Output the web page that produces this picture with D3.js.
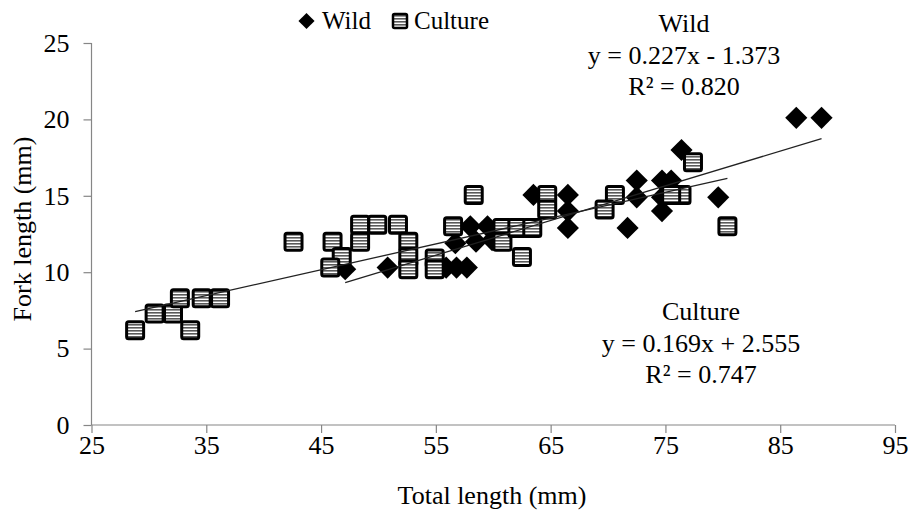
<!DOCTYPE html>
<html>
<head>
<meta charset="utf-8">
<script src="https://cdn.jsdelivr.net/npm/d3@7"></script>
<style>
  html, body { margin: 0; padding: 0; background: #fff; }
  svg { display: block; }
  text { font-family: "Liberation Serif", "Times New Roman", serif; fill: #000; }
</style>
</head>
<body>
<svg id="chart" width="908" height="513"></svg>
<script>
// ---- Data ----
const wildX = [47.1, 50.8, 55.9, 56.8, 57.7, 56.7, 58.5, 58.0, 59.5, 59.9, 63.5, 66.5, 66.5, 66.5, 71.7, 72.5, 72.5, 74.7, 75.5, 74.7, 74.7, 76.4, 79.6, 86.4, 88.6];
const wildY = [10.2, 10.3, 10.3, 10.3, 10.3, 11.9, 12.0, 13.0, 13.0, 12.1, 15.06, 15.06, 14.0, 12.9, 12.9, 16.0, 14.9, 16.0, 16.0, 14.0, 14.9, 18.0, 14.9, 20.1, 20.1];

const cultureX = [28.8, 30.5, 32.1, 32.7, 34.6, 36.2, 33.6, 42.6, 46.0, 46.8, 45.8, 48.4, 49.9, 51.7, 48.4, 52.6, 52.6, 52.6, 54.9, 54.9, 56.5, 58.3, 60.8, 60.8, 62.1, 63.4, 62.5, 64.7, 64.7, 70.6, 69.7, 77.4, 76.4, 75.5, 80.4];
const cultureY = [6.2, 7.3, 7.3, 8.3, 8.3, 8.3, 6.2, 12.0, 12.0, 11.0, 10.3, 13.1, 13.1, 13.1, 12.0, 12.0, 11.0, 10.2, 10.9, 10.2, 13.0, 15.06, 12.9, 12.0, 12.9, 12.9, 11.0, 15.06, 14.1, 15.06, 14.1, 17.2, 15.06, 15.06, 13.0];

const seriesNames = ["Wild", "Culture"];
const wildFit = [0.227, -1.373];     // slope, intercept
const cultureFit = [0.169, 2.555];
const wildLabel = ["Wild", "y = 0.227x - 1.373", "R\u00b2 = 0.820"];
const cultureLabel = ["Culture", "y = 0.169x + 2.555", "R\u00b2 = 0.747"];

const xTicks = [25, 35, 45, 55, 65, 75, 85, 95];
const yTicks = [0, 5, 10, 15, 20, 25];
const xTitle = "Total length (mm)";
const yTitle = "Fork length (mm)";

// ---- Chart ----
const svg = d3.select("#chart");
const axisColor = "#868686";
const x = d3.scaleLinear().domain([25, 95]).range([91.5, 895]);
const y = d3.scaleLinear().domain([0, 25]).range([425, 43]);

const defs = svg.append("defs");
const pat = defs.append("pattern")
  .attr("id", "stripes").attr("patternUnits", "userSpaceOnUse")
  .attr("width", 6).attr("height", 3);
pat.append("rect").attr("width", 6).attr("height", 3).attr("fill", "#ffffff");
pat.append("rect").attr("width", 6).attr("height", 1.6).attr("fill", "#5a5a5a");

// axes
const xAxis = svg.append("g").attr("transform", `translate(0,${y(0)})`)
  .call(d3.axisBottom(x).tickValues(xTicks).tickSize(8).tickPadding(3).tickFormat(d3.format("d")));
const yAxis = svg.append("g").attr("transform", `translate(${x(25)},0)`)
  .call(d3.axisLeft(y).tickValues(yTicks).tickSize(8).tickPadding(14).tickFormat(d3.format("d")));
[xAxis, yAxis].forEach(g => {
  g.attr("font-family", "Liberation Serif");
  g.select(".domain").attr("stroke", axisColor).attr("stroke-width", 1.2);
  g.selectAll(".tick line").attr("stroke", axisColor).attr("stroke-width", 1.2);
  g.selectAll(".tick text").attr("font-size", 26).attr("font-family", "Liberation Serif").attr("fill", "#000");
});
xAxis.select(".domain").attr("d", `M${x(25)},0H${x(95)}`);
yAxis.select(".domain").attr("d", `M0,${y(25)}V${y(0)}`);

// titles
svg.append("text").attr("x", 492).attr("y", 504).attr("text-anchor", "middle")
  .attr("font-size", 26).attr("fill", "#000").text(xTitle);
svg.append("text").attr("transform", "translate(31,229) rotate(-90)").attr("text-anchor", "middle")
  .attr("font-size", 26).attr("fill", "#000").style("fill", "#000").text(yTitle);

// markers
const wild = wildX.map((v, i) => ({ x: v, y: wildY[i] }));
const culture = cultureX.map((v, i) => ({ x: v, y: cultureY[i] }));

svg.append("g").selectAll("path").data(wild).join("path")
  .attr("d", d3.symbol().type(d3.symbolSquare).size(245))
  .attr("transform", d => `translate(${x(d.x)},${y(d.y)}) rotate(45)`)
  .attr("fill", "#000");

const sq = 17;
svg.append("g").selectAll("rect").data(culture).join("rect")
  .attr("x", d => x(d.x) - sq / 2).attr("y", d => y(d.y) - sq / 2)
  .attr("width", sq).attr("height", sq).attr("rx", 2)
  .attr("fill", "url(#stripes)").attr("stroke", "#000").attr("stroke-width", 3);

// trendlines
function trend(data, fit) {
  const ex = d3.extent(data, d => d.x);
  svg.append("line")
    .attr("x1", x(ex[0])).attr("y1", y(fit[0] * ex[0] + fit[1]))
    .attr("x2", x(ex[1])).attr("y2", y(fit[0] * ex[1] + fit[1]))
    .attr("stroke", "#222").attr("stroke-width", 1.3);
}
trend(wild, wildFit);
trend(culture, cultureFit);

// equation labels
function label(lines, cx, y0) {
  const t = svg.append("text").attr("text-anchor", "middle").attr("font-size", 26).attr("fill", "#000");
  lines.forEach((s, i) => t.append("tspan").attr("x", cx).attr("y", y0 + i * 31.5).text(s));
}
label(wildLabel, 684, 32);
label(cultureLabel, 701, 320);

// legend
const lg = svg.append("g");
lg.append("path").attr("d", d3.symbol().type(d3.symbolSquare).size(130))
  .attr("transform", "translate(306.5,21) rotate(45)").attr("fill", "#000");
lg.append("text").attr("x", 322).attr("y", 29).attr("font-size", 25).text(seriesNames[0]);
lg.append("rect").attr("x", 393).attr("y", 14).attr("width", 14).attr("height", 14).attr("rx", 1.5)
  .attr("fill", "url(#stripes)").attr("stroke", "#000").attr("stroke-width", 2.5);
lg.append("text").attr("x", 414).attr("y", 29).attr("font-size", 25).text(seriesNames[1]);
</script>
</body>
</html>
